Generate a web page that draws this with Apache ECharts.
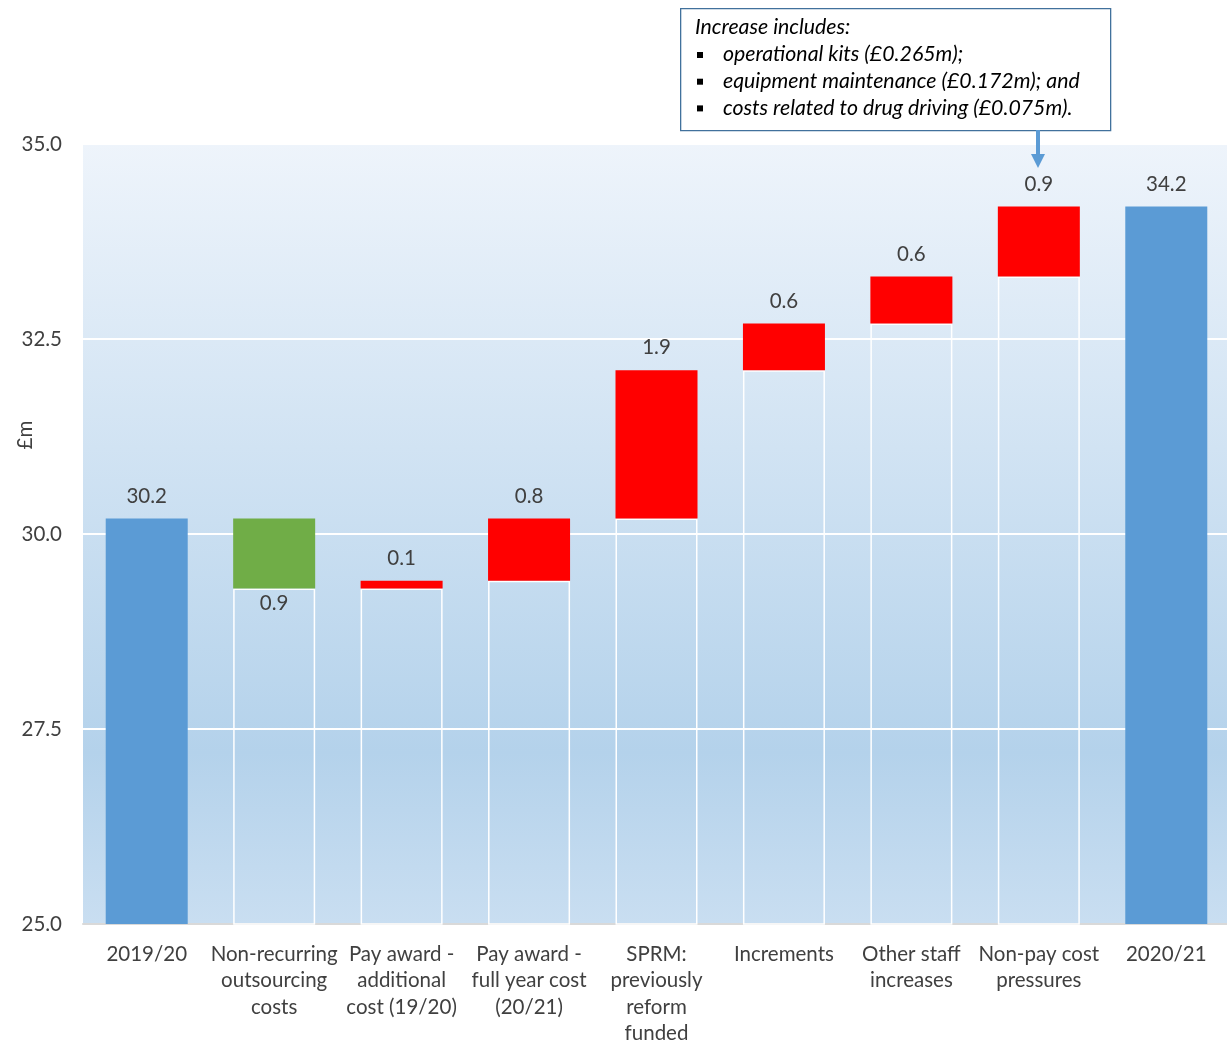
<!DOCTYPE html>
<html>
<head>
<meta charset="utf-8">
<script src="https://cdn.jsdelivr.net/npm/echarts@6/dist/echarts.min.js"></script>
<style>
  html, body { margin: 0; padding: 0; background: #fff; overflow: hidden; }
  #chart { width: 1227px; height: 1042px; }
</style>
</head>
<body>
<div id="chart"></div>
<script>
// Budget bridge 2019/20 -> 2020/21 (£m)
var categories = [
  '2019/20',
  'Non-recurring\noutsourcing\ncosts',
  'Pay award -\nadditional\ncost (19/20)',
  'Pay award -\nfull year cost\n(20/21)',
  'SPRM:\npreviously\nreform\nfunded',
  'Increments',
  'Other staff\nincreases',
  'Non-pay cost\npressures',
  '2020/21'
];
// Opening / closing totals (null where the column is a movement)
var totals = [30.2, null, null, null, null, null, null, null, 34.2];
// Movements between the totals (negative = saving)
var changes = [null, -0.9, 0.1, 0.8, 1.9, 0.6, 0.6, 0.9, null];
var yTicks = { min: 25, max: 35, step: 2.5 };
var yTitle = '£m';

var noteTitle = 'Increase includes:';
var noteItems = [
  'operational kits (£0.265m);',
  'equipment maintenance (£0.172m); and',
  'costs related to drug driving (£0.075m).'
];

var COLOR_TOTAL = '#5b9bd5';
var COLOR_UP = '#ff0000';
var COLOR_DOWN = '#70ad47';
var TEXT = '#404040';
var FONT = 'Lato, "Open Sans", sans-serif';
var FS = 20.5;

// Build the invisible base and the visible segment of each column
var baseData = [];
var barData = [];
var running = 0;
for (var i = 0; i < categories.length; i++) {
  if (totals[i] != null) {
    running = totals[i];
    baseData.push(null);
    barData.push({
      value: totals[i],
      itemStyle: { color: COLOR_TOTAL },
      label: { position: 'top', formatter: totals[i].toFixed(1) }
    });
  } else {
    var c = changes[i];
    var lo = c < 0 ? running + c : running;
    baseData.push(+lo.toFixed(2));
    barData.push({
      value: Math.abs(c),
      itemStyle: { color: c < 0 ? COLOR_DOWN : COLOR_UP },
      label: { position: c < 0 ? 'bottom' : 'top', distance: c < 0 ? 4 : 12,
               formatter: Math.abs(c).toFixed(1) }
    });
    running = +(running + c).toFixed(2);
  }
}

var chart = echarts.init(document.getElementById('chart'), null, { renderer: 'canvas' });

var noteGraphics = [
  {
    type: 'rect', left: 680, top: 8,
    shape: { width: 430, height: 122 },
    style: { fill: '#fff', stroke: '#41719c', lineWidth: 1.3 },
    z: 10
  },
  {
    type: 'text', left: 695, top: 17,
    style: { text: noteTitle, fill: '#000', font: 'italic 21.3px ' + FONT },
    z: 11
  }
];
noteItems.forEach(function (t, k) {
  noteGraphics.push({
    type: 'rect', left: 697, top: 52 + k * 26.7,
    shape: { width: 6, height: 6 },
    style: { fill: '#000' }, z: 11
  });
  noteGraphics.push({
    type: 'text', left: 723, top: 44 + k * 26.7,
    style: { text: t, fill: '#000', font: 'italic 21.3px ' + FONT },
    z: 11
  });
});
// Pointer from the note to the non-pay column
noteGraphics.push({
  type: 'line',
  shape: { x1: 1038, y1: 130, x2: 1038, y2: 156 },
  style: { stroke: COLOR_TOTAL, lineWidth: 4 }, z: 11
});
noteGraphics.push({
  type: 'polygon',
  shape: { points: [[1031, 154], [1045, 154], [1038, 168]] },
  style: { fill: COLOR_TOTAL }, z: 11
});
// Value axis title
noteGraphics.push({
  type: 'text', x: 25, y: 435, rotation: Math.PI / 2,
  style: {
    text: yTitle, fill: TEXT, font: FS + 'px ' + FONT,
    textAlign: 'center', textVerticalAlign: 'middle'
  }
});

chart.setOption({
  animation: false,
  textStyle: { fontFamily: FONT },
  grid: {
    left: 83, right: -3, top: 144, bottom: 118,
    containLabel: false,
    outerBoundsMode: 'none',
    show: true, borderWidth: 0,
    backgroundColor: new echarts.graphic.LinearGradient(0, 0, 0, 1, [
      { offset: 0, color: '#eef4fb' },
      { offset: 0.78, color: '#b4d2eb' },
      { offset: 1, color: '#c9def1' }
    ])
  },
  xAxis: {
    type: 'category',
    data: categories,
    axisLine: { show: true, lineStyle: { color: '#d9d9d9', width: 2 } },
    axisTick: { show: false },
    axisLabel: {
      interval: 0, margin: 17, color: TEXT, fontSize: FS,
      lineHeight: 26.5, fontFamily: FONT
    }
  },
  yAxis: {
    type: 'value',
    min: yTicks.min, max: yTicks.max, interval: yTicks.step,
    axisLine: { show: false },
    axisTick: { show: false },
    axisLabel: {
      margin: 21, color: TEXT, fontSize: FS, fontFamily: FONT,
      formatter: function (v) { return v.toFixed(1); }
    },
    splitLine: { lineStyle: { color: '#ffffff', width: 2 } }
  },
  series: [
    {
      name: 'base', type: 'bar', stack: 'bridge', barWidth: 82,
      data: baseData,
      itemStyle: { color: 'rgba(0,0,0,0)', borderColor: '#ffffff', borderWidth: 1.5 },
      emphasis: { disabled: true },
      silent: true
    },
    {
      name: 'value', type: 'bar', stack: 'bridge', barWidth: 82,
      data: barData,
      label: { show: true, color: TEXT, fontSize: FS, fontFamily: FONT, distance: 12 }
    }
  ],
  graphic: noteGraphics
});
</script>
</body>
</html>
